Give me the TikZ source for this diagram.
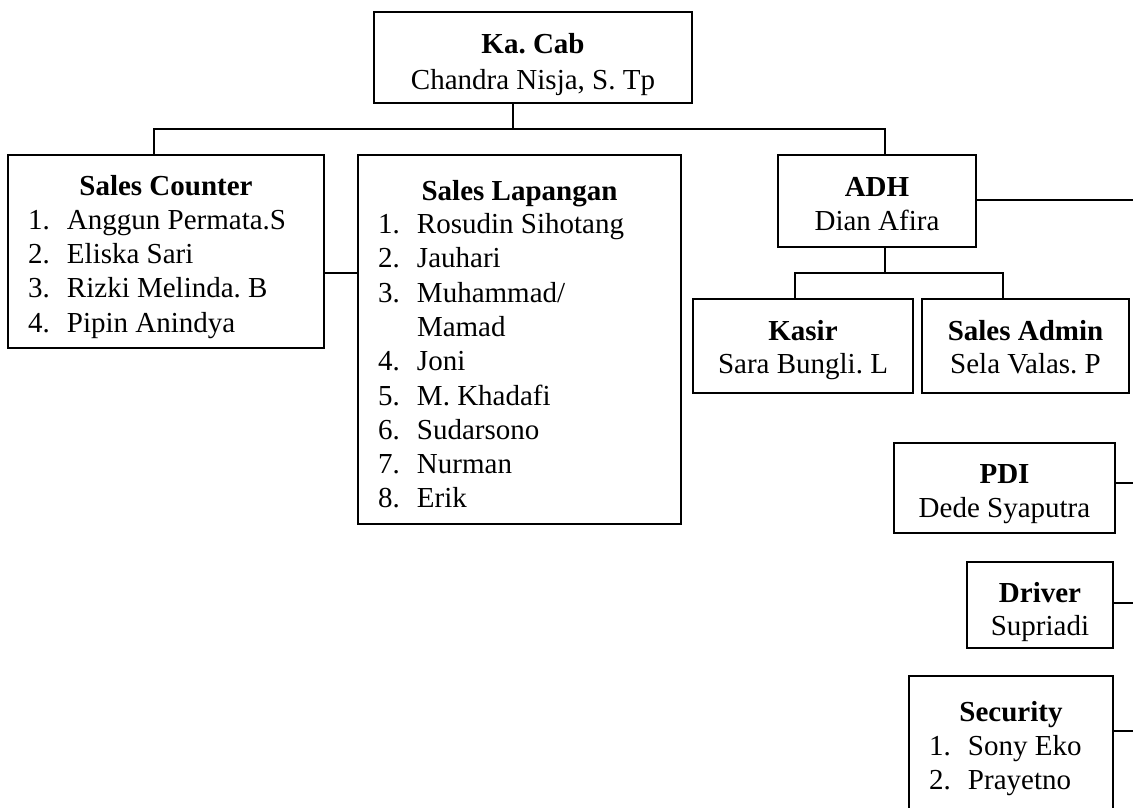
\documentclass[tikz,border=0pt]{standalone}
\usepackage{fontspec}
\setmainfont{Liberation Serif}
\usetikzlibrary{fit}
\frenchspacing
\begin{document}
\frenchspacing
\begin{tikzpicture}[x=1pt,y=-1pt,
  box/.style={draw, rectangle, inner sep=0pt, outer sep=0pt, line width=1.5pt},
  conn/.style={draw, line width=1.5pt},
  ttl/.style={inner sep=0pt, outer sep=0pt, anchor=base, font=\fontsize{29}{34}\selectfont\bfseries},
  nm/.style={inner sep=0pt, outer sep=0pt, anchor=base, font=\fontsize{29}{34}\selectfont},
  item/.style={inner sep=0pt, outer sep=0pt, anchor=base west, font=\fontsize{29}{34}\selectfont}]
\useasboundingbox (0,0) rectangle (1133,807);

% boxes
\node[box, fit={(374,12) (692,103)}] (kacab) {};
\node[box, fit={(8,155) (324,348)}] (sc) {};
\node[box, fit={(358,155) (681,524)}] (sl) {};
\node[box, fit={(778,155) (976,247)}] (adh) {};
\node[box, fit={(693,299) (913,393)}] (kasir) {};
\node[box, fit={(922,299) (1129,393)}] (sadmin) {};
\node[box, fit={(894,443) (1115,533)}] (pdi) {};
\node[box, fit={(967,562) (1113,648)}] (driver) {};
\node[box, fit={(909,676) (1113,820)}] (security) {};

% texts
\node[ttl] (kacabT) at (533,53) {Ka. Cab};
\node[nm] (kacabN) at (533,89) {Chandra Nisja, S. Tp};

\node[ttl] (scT) at (166,195) {Sales Counter};
\node[item] (sc1) at (28,229) {\makebox[39pt][l]{1.}Anggun Permata.S};
\node[item] (sc2) at (28,263) {\makebox[39pt][l]{2.}Eliska Sari};
\node[item] (sc3) at (28,297) {\makebox[39pt][l]{3.}Rizki Melinda. B};
\node[item] (sc4) at (28,332) {\makebox[39pt][l]{4.}Pipin Anindya};

\node[ttl] (slT) at (519.5,200) {Sales Lapangan};
\node[item] (sl1) at (378,233) {\makebox[39pt][l]{1.}Rosudin Sihotang};
\node[item] (sl2) at (378,267) {\makebox[39pt][l]{2.}Jauhari};
\node[item] (sl3) at (378,302) {\makebox[39pt][l]{3.}Muhammad/};
\node[item] (sl3b) at (378,336) {\makebox[39pt][l]{}Mamad};
\node[item] (sl4) at (378,370) {\makebox[39pt][l]{4.}Joni};
\node[item] (sl5) at (378,405) {\makebox[39pt][l]{5.}M. Khadafi};
\node[item] (sl6) at (378,439) {\makebox[39pt][l]{6.}Sudarsono};
\node[item] (sl7) at (378,473) {\makebox[39pt][l]{7.}Nurman};
\node[item] (sl8) at (378,507) {\makebox[39pt][l]{8.}Erik};

\node[ttl] (adhT) at (877,196) {ADH};
\node[nm] (adhN) at (877,230) {Dian Afira};

\node[ttl] (kasirT) at (803,340) {Kasir};
\node[nm] (kasirN) at (803,373) {Sara Bungli. L};

\node[ttl] (sadminT) at (1025.5,340) {Sales Admin};
\node[nm] (sadminN) at (1025.5,373) {Sela Valas. P};

\node[ttl] (pdiT) at (1004.5,483) {PDI};
\node[nm] (pdiN) at (1004.5,517) {Dede Syaputra};

\node[ttl] (driverT) at (1040,602) {Driver};
\node[nm] (driverN) at (1040,635) {Supriadi};

\node[ttl] (securityT) at (1011,721) {Security};
\node[item] (sec1) at (929,755) {\makebox[39pt][l]{1.}Sony Eko};
\node[item] (sec2) at (929,789) {\makebox[39pt][l]{2.}Prayetno};

% connector coordinates
\coordinate (busC) at (513,129);
\coordinate (busL) at (154,129);
\coordinate (busR) at (885,129);
\coordinate (scj) at (340,273);
\coordinate (adhR) at (1133,200);
\coordinate (sub) at (885,273);
\coordinate (subL) at (795,273);
\coordinate (subR) at (1003,273);
\coordinate (pdiR) at (1133,483);
\coordinate (driverR) at (1133,603);
\coordinate (securityR) at (1133,731);

% connectors
\draw[conn] (busC |- kacab.south) -- (busC);
\draw[conn] (busL |- sc.north) -- (busL) -- (busR) -- (busR |- adh.north);
\draw[conn] (scj -| sc.east) -- (scj -| sl.west);
\draw[conn] (adh.east |- adhR) -- (adhR);
\draw[conn] (sub |- adh.south) -- (sub);
\draw[conn] (subL |- kasir.north) -- (subL) -- (subR) -- (subR |- sadmin.north);
\draw[conn] (pdi.east |- pdiR) -- (pdiR);
\draw[conn] (driver.east |- driverR) -- (driverR);
\draw[conn] (security.east |- securityR) -- (securityR);
\end{tikzpicture}
\end{document}
